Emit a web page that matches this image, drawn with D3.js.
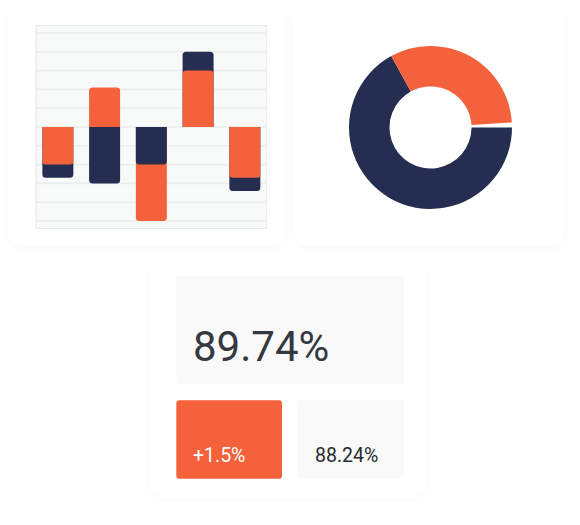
<!DOCTYPE html>
<html><head><meta charset="utf-8">
<script src="https://cdn.jsdelivr.net/npm/d3@7"></script>
<style>html,body{margin:0;padding:0;background:#fff;}svg{display:block;}</style>
</head><body>
<script>
// ---- data ----
const categories = ["A", "B", "C", "D", "E"];
const navyValues = [-27, -30, -20, 40, -34];
const orangeValues = [-20, 21, -50, 30, -27];
const gridTicks = [-50, -40, -30, -20, -10, 0, 10, 20, 30, 40, 50];
const donutLabels = ["navy", "orange", "gap"];
const donutValues = [67, 32, 1];
const kpiMain = "89.74%";
const kpiDelta = "+1.5%";
const kpiPrev = "88.24%";

const NAVY = "#252d51", ORANGE = "#f4623b";
const W = 580, H = 525;
const svg = d3.select("body").append("svg").attr("width", W).attr("height", H);

const defs = svg.append("defs");
const f = defs.append("filter").attr("id", "sh").attr("x", "-20%").attr("y", "-20%").attr("width", "140%").attr("height", "140%");
f.append("feDropShadow").attr("dx", 0).attr("dy", 2).attr("stdDeviation", 6).attr("flood-color", "#000").attr("flood-opacity", 0.025);

// cards
const cards = [[8, 6, 276, 240], [294, 6, 270, 240], [150, 262, 276, 236]];
svg.selectAll("rect.card").data(cards).join("rect").attr("class", "card")
  .attr("x", d => d[0]).attr("y", d => d[1]).attr("width", d => d[2]).attr("height", d => d[3])
  .attr("rx", 16).attr("fill", "#fff").attr("filter", "url(#sh)");

// ---- bar chart ----
const px0 = 36, px1 = 266.7, py0 = 25.5, py1 = 228.5;
const g = svg.append("g");
g.append("rect").attr("x", px0).attr("y", py0).attr("width", px1 - px0).attr("height", py1 - py0)
  .attr("fill", "#f8f9f9").attr("stroke", "#e6e9e9").attr("stroke-width", 1);
const x = d3.scaleBand().domain(categories).range([px0, px1]).paddingInner(0.337).paddingOuter(0.136);
const y = d3.scaleLinear().domain([-54, 54]).range([py1, py0]);
g.append("g").selectAll("line").data(gridTicks).join("line")
  .attr("x1", px0 + 0.5).attr("x2", px1 - 0.5).attr("y1", d => y(d)).attr("y2", d => y(d))
  .attr("stroke", "#eceeee").attr("stroke-width", 1.6);

function barPath(xx, w, ya, yb, r) {
  if (yb < ya) {
    return `M${xx},${ya}L${xx},${yb + r}A${r},${r} 0 0 1 ${xx + r},${yb}L${xx + w - r},${yb}A${r},${r} 0 0 1 ${xx + w},${yb + r}L${xx + w},${ya}Z`;
  } else {
    return `M${xx},${ya}L${xx},${yb - r}A${r},${r} 0 0 0 ${xx + r},${yb}L${xx + w - r},${yb}A${r},${r} 0 0 0 ${xx + w},${yb - r}L${xx + w},${ya}Z`;
  }
}
const barData = [];
categories.forEach((c, i) => {
  const pair = [{ c, v: navyValues[i], col: NAVY }, { c, v: orangeValues[i], col: ORANGE }];
  pair.sort((a, b) => Math.abs(b.v) - Math.abs(a.v));
  barData.push(...pair);
});
g.append("g").selectAll("path").data(barData).join("path")
  .attr("d", d => barPath(x(d.c), x.bandwidth(), y(0), y(d.v), 3.5))
  .attr("fill", d => d.col);

// ---- donut ----
const cx = 430.5, cy = 127.5;
const pie = d3.pie().sort(null).startAngle(Math.PI / 2).endAngle(Math.PI / 2 + 2 * Math.PI);
const arc = d3.arc().innerRadius(41).outerRadius(81.5);
const dcol = { navy: NAVY, orange: ORANGE, gap: "none" };
svg.append("g").attr("transform", `translate(${cx},${cy})`).selectAll("path")
  .data(pie(donutValues))
  .join("path").attr("d", arc).attr("fill", (d, i) => dcol[donutLabels[i]]);

// ---- KPI ----
const k = svg.append("g");
k.append("rect").attr("x", 176.3).attr("y", 275.7).attr("width", 227.7).attr("height", 108.3).attr("rx", 3).attr("fill", "#f9f9f9");
k.append("rect").attr("x", 176.3).attr("y", 400.3).attr("width", 105.7).attr("height", 78.4).attr("rx", 3).attr("fill", ORANGE);
k.append("rect").attr("x", 298).attr("y", 400.3).attr("width", 106).attr("height", 78.4).attr("rx", 3).attr("fill", "#f9f9f9");
const font = "Roboto, 'Noto Sans', sans-serif";
k.append("text").attr("x", 193).attr("y", 361).attr("font-family", font).attr("font-size", 42).attr("fill", "#33393f").text(kpiMain);
k.append("text").attr("x", 193).attr("y", 462).attr("font-family", font).attr("font-size", 19.5).attr("fill", "#fff").text(kpiDelta);
k.append("text").attr("x", 315).attr("y", 462).attr("font-family", font).attr("font-size", 19.5).attr("fill", "#262b30").text(kpiPrev);
</script>
</body></html>
